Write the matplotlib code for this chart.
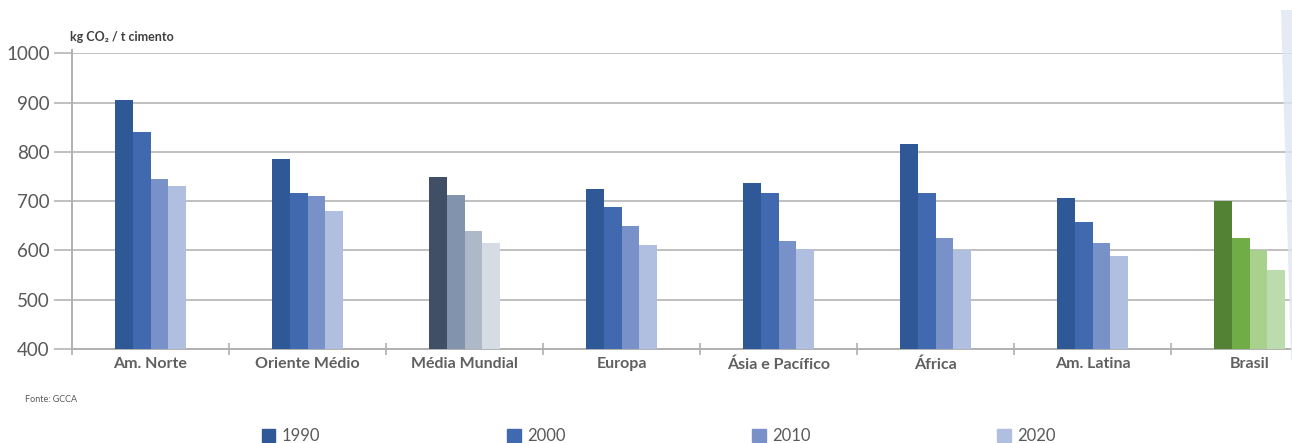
import matplotlib.pyplot as plt
import matplotlib.patches as mpatches
import numpy as np

# emissões específicas por região (kg CO2 / t cimento)
regioes = ['Am. Norte', 'Oriente Médio', 'Média Mundial', 'Europa',
           'Ásia e Pacífico', 'África', 'Am. Latina', 'Brasil']
anos = ['1990', '2000', '2010', '2020']
v1990 = [905, 785, 750, 725, 737, 815, 707, 700]
v2000 = [840, 717, 713, 688, 716, 716, 658, 625]
v2010 = [745, 710, 640, 650, 619, 625, 615, 600]
v2020 = [730, 680, 615, 612, 603, 600, 588, 561]

cores_azul = ['#2f5897', '#4169b0', '#7891c8', '#b0bfe0']
cores_mundo = ['#404f66', '#8293ad', '#adb9c9', '#d5dce4']
cores_brasil = ['#548235', '#70ad47', '#a9d18e', '#bcdcae']

plt.rcParams['font.family'] = ['Lato', 'DejaVu Sans']

fig = plt.figure(figsize=(12.92, 4.43), dpi=100)
ax = fig.add_axes([72 / 1292, 1 - 349 / 443, (8 * 157) / 1292, (349 - 53.3) / 443])

x = np.arange(len(regioes))
w = 0.112
series = [v1990, v2000, v2010, v2020]
for i, vals in enumerate(series):
    cores = []
    for r in regioes:
        if r == 'Média Mundial':
            cores.append(cores_mundo[i])
        elif r == 'Brasil':
            cores.append(cores_brasil[i])
        else:
            cores.append(cores_azul[i])
    ax.bar(x + (i - 1.5) * w, np.array(vals) - 400, bottom=400, width=w,
           color=cores, zorder=3, label=anos[i])

ax.set_ylim(400, 1000)
ax.set_xlim(-0.5, len(regioes) - 0.5)
ax.set_yticks(range(400, 1001, 100))
ax.grid(axis='y', color='#c0c0c0', linewidth=1.4, zorder=0)
ax.tick_params(axis='y', direction='out', length=13, width=1.4, color='#c0c0c0',
               labelsize=13.5, labelcolor='#595959', pad=3)

# limites das categorias como ticks, nomes no centro
ax.set_xticks(np.arange(-0.5, len(regioes), 1.0))
ax.set_xticklabels([])
ax.tick_params(axis='x', which='major', direction='inout', length=8, width=1.2,
               color='#b0b0b0')
ax.set_xticks(x, minor=True)
ax.set_xticklabels(regioes, minor=True, fontsize=11.5, fontweight='bold',
                   color='#606060')
ax.tick_params(axis='x', which='minor', length=0, pad=6)

for s in ['top', 'right']:
    ax.spines[s].set_visible(False)
ax.spines['left'].set_color('#b0b0b0')
ax.spines['left'].set_linewidth(1.4)
ax.spines['left'].set_bounds(400, 1006)
ax.spines['bottom'].set_color('#b0b0b0')
ax.spines['bottom'].set_linewidth(1.4)

fig.text(70 / 1292, 1 - 37 / 443, 'kg CO₂ / t cimento', fontsize=9,
         fontweight='bold', color='#404040', va='center', ha='left')
fig.text(25 / 1292, 1 - 400 / 443, 'Fonte: GCCA', fontsize=6.5,
         color='#595959', va='center', ha='left')

# legenda: quadrados e anos
handles = [mpatches.Patch(color=c) for c in cores_azul]
leg = fig.legend(handles, anos, loc='center left', ncol=4, frameon=False,
                 bbox_to_anchor=(262 / 1292, 1 - 436 / 443), fontsize=12,
                 handlelength=0.8, handleheight=0.8, handletextpad=0.4,
                 columnspacing=11.2, borderaxespad=0, borderpad=0)
for t in leg.get_texts():
    t.set_color('#595959')

# faixa azul-clara decorativa na borda direita
faixa = mpatches.Polygon([(1281 / 1292, 1 - 10 / 443), (1.0, 1 - 10 / 443),
                          (1.0, 1 - 360 / 443), (1291 / 1292, 1 - 360 / 443)],
                         closed=True, transform=fig.transFigure,
                         facecolor='#dfe6f2', edgecolor='none', alpha=0.8)
fig.patches.append(faixa)

fig.savefig('out.png', dpi=100)
